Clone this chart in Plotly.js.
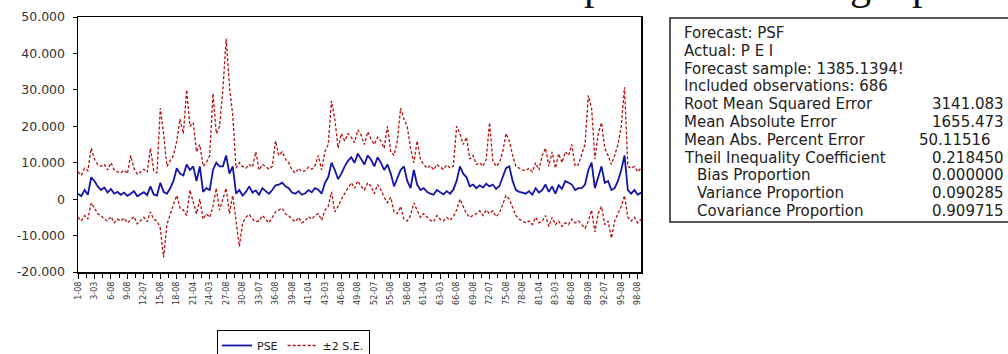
<!DOCTYPE html>
<html><head><meta charset="utf-8">
<script src="https://cdn.plot.ly/plotly-3.0.1.min.js"></script>
<style>html,body{margin:0;padding:0;background:#fff;}#chart{width:1008px;height:354px;}</style>
</head><body><div id="chart"></div>
<script>
// ---- data (every point stands for ~4 observations) ----
const forecastPSE = [
 1500, 800, 2500, 1200,
 6000, 5000, 3500,
 2500, 3200, 1800, 2800, 1500, 2000,
 1200, 1800, 900, 1500, 2200, 800, 1400, 1900, 1100, 3500, 1300, 1000,
 4500, 2000, 1500, 3000,
 5000, 8500, 7000, 6500, 9500, 8000, 9000, 5000, 9000,
 2000, 3000, 2500,
 8000, 10000, 9000, 9000, 12000, 7000, 9000,
 1500, 2500, 1000,
 2000, 3500, 1800, 2400, 1200, 3000, 2200, 1500, 2500, 3800,
 4000, 4500, 3500, 3000,
 1800, 1500, 2200, 1200, 1600, 2500, 1900, 3000, 2600, 1500,
 4500, 6000, 10000, 8000, 5500, 7000,
 9000, 10500, 11500, 10000, 12500, 11000, 9500, 12000, 10800, 9000, 11500, 10000, 8000, 9500, 7000,
 3500, 6000, 8000, 9000, 5000, 3000, 8000, 4000, 2500, 3000,
 2000, 1500, 1200, 2500, 1800, 1300, 2200, 1500, 2600,
 5000, 9000, 7000, 6000, 3500, 4000,
 3000, 3800, 3200, 4200, 3500, 4000, 2800, 3600,
 6000, 8500, 9000, 5000,
 2500, 2000, 1800, 1500, 2200, 1200, 3000, 1800,
 2500, 4000, 2000, 3500, 1500, 3800, 2800, 5000, 4500, 4000, 2500, 3000,
 3000, 4000, 8000, 10000, 3000, 6000, 9000, 4500, 5000, 2500,
 3000, 5000, 8000, 12000, 2500, 1500, 2500, 1200, 1800
];
const upperBand = [
 7500, 6500, 8500, 7800,
 14000, 11000, 9500,
 9000, 9500, 8000, 10000, 8000, 7500,
 7200, 8000, 7000, 12000, 8500, 6800, 7500, 8200, 7400, 14000, 7800, 7200,
 25000, 18000, 9000, 10500,
 12000, 16000, 22000, 18000, 30000, 20000, 21000, 13000, 15000,
 9000, 10000, 12000,
 29000, 18000, 20000, 30000, 44000, 31000, 23000,
 8500, 10000, 9000,
 8500, 9500, 8800, 13000, 8000, 9500, 9000, 8200, 9000, 16000,
 12000, 13000, 11000, 10000,
 8000, 7200, 8500, 7500, 7800, 8800, 8200, 9200, 12000, 8000,
 13000, 15000, 27000, 22000, 14000, 18000,
 16000, 18000, 17000, 15500, 19000, 17500, 15000, 18500, 16500, 15000, 17000, 16000, 14000, 20000, 13000,
 12000, 16000, 25000, 22000, 20000, 14000, 10000, 16000, 11000, 9500,
 8500, 9200, 8000, 9500, 8800, 8200, 9400, 8600, 9000,
 20000, 18000, 15000, 17000, 11000, 12000,
 9500, 10000, 9000, 11000, 21000, 10500, 9000, 10000,
 13000, 18000, 16000, 12000,
 9000, 8500, 8000, 7800, 8500, 7500, 10000, 8000,
 12000, 14000, 9000, 13000, 8500, 12500, 10000, 13000, 12000, 15000, 9000, 9500,
 12000, 15000, 28500, 25000, 11000, 18000, 21000, 14000, 12000, 9500,
 12000, 15000, 20000, 30700, 9000, 8500, 9000, 7500, 8500
];
const lowerBand = [
 -5000, -6000, -4500, -5500,
 -1000, -2500, -4000,
 -4500, -5500, -6000, -4800, -6500, -5500,
 -6000, -5200, -6500, -5500, -4800, -6800, -5800, -5000, -6200, -3500, -5500, -6000,
 -8000, -16000, -7000, -4000,
 -1500, 1000, -2500, -3000, -4500, 2500, -1000, -4000, 0,
 -5500, -4000, -5000,
 -2000, 3000, -3000, 0, 3000, -4000, 1000,
 -6000, -13000, -6500,
 -5000, -4200, -5500, -6200, -6000, -4500, -5500, -6500, -5000, -3500,
 -3000, -2500, -4000, -4500,
 -5500, -6200, -5000, -6500, -6000, -4800, -5500, -4500, -4000, -5800,
 -3000, -2000, 2000, -3500, -2000, 0,
 1500, 3000, 4500, 3000, 5000, 3500, 2500, 4500, 3500, 1500, 4000, 2500, 500, -1000, 500,
 -3500, -4000, -2000, -5500, -6000, -4500, -1000, -3000, -5000, -4000,
 -5000, -5800, -6200, -4500, -5500, -6000, -5000, -5800, -4800,
 -3000, 0, -2000, -4000, -5000, -4500,
 -4000, -3200, -4500, -3000, -4000, -3200, -4800, -3800,
 -1500, 1000, 0, -2500,
 -4500, -5500, -6000, -6500, -6000, -7000, -5000, -6500,
 -6000, -4500, -7500, -5000, -7000, -6000, -7500, -6500, -7000, -5500, -6500, -6000,
 -7000, -8000, -6000, -3000, -9000, -4000, -2000, -7000, -6000, -10700,
 -6000, -4000, -2000, 1000, -5000, -6000, -5000, -6500, -5500
];
const xTickLabels = ["1-08","3-03","6-08","9-08","12-07","15-08","18-08","21-04","24-03","27-08",
 "30-08","33-07","36-08","39-08","41-04","43-03","46-08","49-08","52-07","55-08",
 "58-08","61-04","63-03","66-08","69-08","72-07","75-08","78-08","81-04","83-03",
 "86-08","89-08","92-07","95-08","98-08"];
const yTickVals = [-20000, -10000, 0, 10000, 20000, 30000, 40000, 50000];
const yTickText = ["-20.000", "-10.000", "0", "10.000", "20.000", "30.000", "40.000", "50.000"];
const seriesNames = ["PSE", "±2 S.E."];
const statLabels = ["Forecast: PSF", "Actual: P E I", "Forecast sample: 1385.1394!", "Included observations: 686",
 "Root Mean Squared Error", "Mean Absolute Error", "Mean Abs. Percent Error", "Theil Inequality Coefficient",
 "Bias Proportion", "Variance Proportion", "Covariance Proportion"];
const statValues = ["", "", "", "", "3141.083", "1655.473", "50.11516", "0.218450", "0.000000", "0.090285", "0.909715"];

// ---- layout helpers (pixel -> paper) ----
const PL = 78, PR = 641, PT = 17, PB = 272;
const px = x => (x - PL) / (PR - PL);
const py = y => (PB - y) / (PB - PT);

const idx = forecastPSE.map((_, i) => i);
const tickPos = xTickLabels.map((_, k) => k * 5);
const minorPos = xTickLabels.map((_, k) => k * 5 + 2.5);

const redLine = {color: '#b3120f', width: 1.3, dash: '3px,2px'};
const traces = [
  {x: idx, y: upperBand, type: 'scatter', mode: 'lines', name: seriesNames[1], legendgroup: 'se',
   legendrank: 2, line: redLine, hoverinfo: 'skip'},
  {x: idx, y: lowerBand, type: 'scatter', mode: 'lines', name: seriesNames[1], legendgroup: 'se',
   showlegend: false, line: redLine, hoverinfo: 'skip'},
  {x: idx, y: forecastPSE, type: 'scatter', mode: 'lines', name: seriesNames[0], legendrank: 1,
   line: {color: '#1414a8', width: 1.8}, hoverinfo: 'skip'}
];

const ann = [];
const valueRight = [0, 0, 0, 0, 1006, 1006, 993, 1006, 1006, 1006, 1006];
const statFont = {family: 'DejaVu Sans', size: 15, color: '#222'};
statLabels.forEach((t, k) => {
  const y = 33 + 17.8 * k;
  const xl = k >= 8 ? 695 : 682;
  ann.push({xref: 'paper', yref: 'paper', x: px(xl), y: py(y), xanchor: 'left', yanchor: 'middle',
    text: t, showarrow: false, font: statFont});
  if (statValues[k]) ann.push({xref: 'paper', yref: 'paper', x: px(valueRight[k]), y: py(y), xanchor: 'right',
    yanchor: 'middle', text: statValues[k], showarrow: false, font: statFont});
});
// fragments of the document text line cut off at the top of the picture
[["p", 594], ["g", 860], ["p", 922]].forEach(([t, x]) => ann.push({xref: 'paper', yref: 'paper',
  x: px(x), y: py(-15), xanchor: 'center', yanchor: 'middle', text: t, showarrow: false,
  font: {family: 'Liberation Serif', size: 42, color: '#111'}}));

const layout = {
  width: 1008, height: 354,
  margin: {l: PL, r: 1008 - PR, t: PT, b: 354 - PB, autoexpand: false},
  paper_bgcolor: '#fff', plot_bgcolor: '#fff',
  showlegend: true,
  legend: {orientation: 'h', x: px(217), y: py(330), xanchor: 'left', yanchor: 'top',
    bordercolor: '#000', borderwidth: 1, bgcolor: '#fff', itemwidth: 30,
    font: {family: 'DejaVu Sans', size: 11, color: '#222'}, tracegroupgap: 0},
  xaxis: {range: [0, forecastPSE.length - 1], tickmode: 'array', tickvals: tickPos, ticktext: xTickLabels,
    tickangle: -90, ticks: 'outside', ticklen: 5, tickcolor: '#000', showline: true, linecolor: '#000',
    linewidth: 1.5, mirror: true, showgrid: false, zeroline: false,
    minor: {tickmode: 'array', tickvals: minorPos, ticks: 'outside', ticklen: 4, tickcolor: '#000', showgrid: false},
    tickfont: {family: 'DejaVu Sans', size: 8, color: '#333'}},
  yaxis: {range: [-20000, 50000], tickmode: 'array', tickvals: yTickVals, ticktext: yTickText,
    ticks: 'outside', ticklen: 4, tickcolor: '#000', showline: true, linecolor: '#000', linewidth: 1.5,
    mirror: true, showgrid: false, zeroline: false, ticklabelstandoff: 5,
    tickfont: {family: 'DejaVu Sans', size: 12.5, color: '#333'}},
  shapes: [{type: 'rect', xref: 'paper', yref: 'paper', x0: px(670), x1: px(1014), y0: py(222), y1: py(18),
    line: {color: '#222', width: 1.5}, fillcolor: 'rgba(0,0,0,0)'}],
  annotations: ann
};
Plotly.newPlot('chart', traces, layout, {staticPlot: true, displayModeBar: false});
</script>
</body></html>
